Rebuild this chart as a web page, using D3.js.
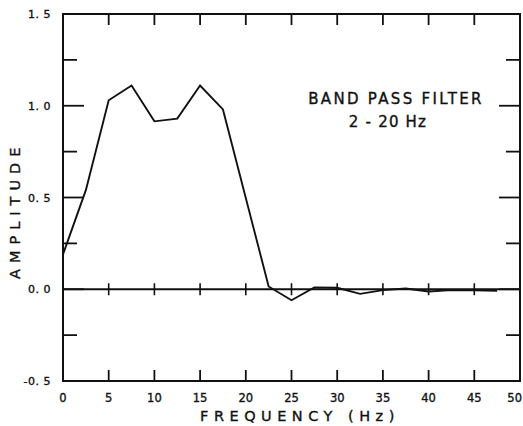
<!DOCTYPE html>
<html>
<head>
<meta charset="utf-8">
<script src="https://cdn.jsdelivr.net/npm/d3@7"></script>
<style>
  body { margin: 0; background: #fff; }
  text { font-family: "DejaVu Sans", sans-serif; fill: #111; stroke: #111; stroke-width: 0.35px; }
</style>
</head>
<body>
<svg id="chart" width="523" height="426"></svg>
<script>
// Frequency response
const freqs = [0, 2.5, 5, 7.5, 10, 12.5, 15, 17.5, 22.5, 25, 27.5, 30, 32.5, 35, 37.5, 40, 42.5, 45, 47.5];
const amps = [0.19, 0.54, 1.03, 1.11, 0.915, 0.93, 1.11, 0.98, 0.015, -0.06, 0.01, 0.008, -0.025, -0.005, 0.004, -0.012, -0.005, -0.006, -0.008];

const xTicks = [0, 5, 10, 15, 20, 25, 30, 35, 40, 45, 50];
const yMajor = [-0.5, 0, 0.5, 1.0, 1.5];
const yMinor = [-0.25, 0.25, 0.75, 1.25];
const yLabels = ['-0.5', '0.0', '0.5', '1.0', '1.5'];

const margin = { left: 63, right: 3, top: 14, bottom: 45 };
const width = 523, height = 426;

const svg = d3.select('#chart');

const x = d3.scaleLinear().domain([0, 50]).range([margin.left, width - margin.right]);
const y = d3.scaleLinear().domain([-0.5, 1.5]).range([height - margin.bottom, margin.top]);

const stroke = '#111';
const g = svg.append('g');

// Frame
g.append('rect')
    .attr('x', x(0)).attr('y', y(1.5))
    .attr('width', x(50) - x(0)).attr('height', y(-0.5) - y(1.5))
    .attr('fill', 'none').attr('stroke', stroke).attr('stroke-width', 2);

// Inward x ticks on bottom and top
const inner = xTicks.slice(1, -1);
g.selectAll('.xb').data(inner).join('line')
    .attr('x1', d => x(d)).attr('x2', d => x(d))
    .attr('y1', y(-0.5)).attr('y2', y(-0.5) - 11)
    .attr('stroke', stroke).attr('stroke-width', 1.8);
g.selectAll('.xt').data(inner).join('line')
    .attr('x1', d => x(d)).attr('x2', d => x(d))
    .attr('y1', y(1.5)).attr('y2', y(1.5) + 11)
    .attr('stroke', stroke).attr('stroke-width', 1.8);

// Zero line with crossing ticks
g.append('line')
    .attr('x1', x(0)).attr('x2', x(50))
    .attr('y1', y(0)).attr('y2', y(0))
    .attr('stroke', stroke).attr('stroke-width', 1.8);
g.selectAll('.xz').data(inner).join('line')
    .attr('x1', d => x(d)).attr('x2', d => x(d))
    .attr('y1', y(0) - 6).attr('y2', y(0) + 6)
    .attr('stroke', stroke).attr('stroke-width', 1.6);

// Y ticks, left and right
const yTickData = yMajor.filter(d => d > -0.5 && d < 1.5).map(v => ({ v, len: 21 }))
    .concat(yMinor.map(v => ({ v, len: 14 })));
g.selectAll('.yl').data(yTickData).join('line')
    .attr('x1', x(0)).attr('x2', d => x(0) + d.len)
    .attr('y1', d => y(d.v)).attr('y2', d => y(d.v))
    .attr('stroke', stroke).attr('stroke-width', 1.8);
g.selectAll('.yr').data(yTickData).join('line')
    .attr('x1', x(50)).attr('x2', d => x(50) - d.len)
    .attr('y1', d => y(d.v)).attr('y2', d => y(d.v))
    .attr('stroke', stroke).attr('stroke-width', 1.8);

// Tick labels
g.selectAll('.xlab').data(xTicks).join('text')
    .attr('x', d => d === 50 ? width - 1 : x(d))
    .attr('y', y(-0.5) + 21)
    .attr('text-anchor', d => d === 50 ? 'end' : 'middle')
    .attr('font-size', 11.5)
    .text(d => d);
g.selectAll('.ylab').data(yMajor).join('text')
    .attr('x', x(0) - 12).attr('y', d => y(d) + 4)
    .attr('text-anchor', 'end')
    .attr('font-size', 11)
    .attr('letter-spacing', 0.5)
    .text((d, i) => yLabels[i].replace('.', '. '));

// Axis titles
svg.append('text')
    .attr('x', 300).attr('y', 421)
    .attr('text-anchor', 'middle')
    .attr('font-size', 14.5)
    .attr('letter-spacing', 5.5)
    .text('FREQUENCY (Hz)');
svg.append('text')
    .attr('transform', `translate(20, ${y(0.43)}) rotate(-90)`)
    .attr('text-anchor', 'middle')
    .attr('font-size', 14.5)
    .attr('letter-spacing', 6)
    .text('AMPLITUDE');

// Annotation
svg.append('text')
    .attr('x', 396).attr('y', 104)
    .attr('text-anchor', 'middle')
    .attr('font-size', 15)
    .attr('letter-spacing', 2.3)
    .text('BAND PASS FILTER');
svg.append('text')
    .attr('x', 388).attr('y', 127)
    .attr('text-anchor', 'middle')
    .attr('font-size', 15)
    .attr('letter-spacing', 1.2)
    .text('2 - 20 Hz');

// Response curve
const line = d3.line().x(d => x(d[0])).y(d => y(d[1]));
g.append('path')
    .datum(freqs.map((f, i) => [f, amps[i]]))
    .attr('d', line)
    .attr('fill', 'none')
    .attr('stroke', stroke)
    .attr('stroke-width', 1.9)
    .attr('stroke-linejoin', 'miter');
</script>
</body>
</html>
